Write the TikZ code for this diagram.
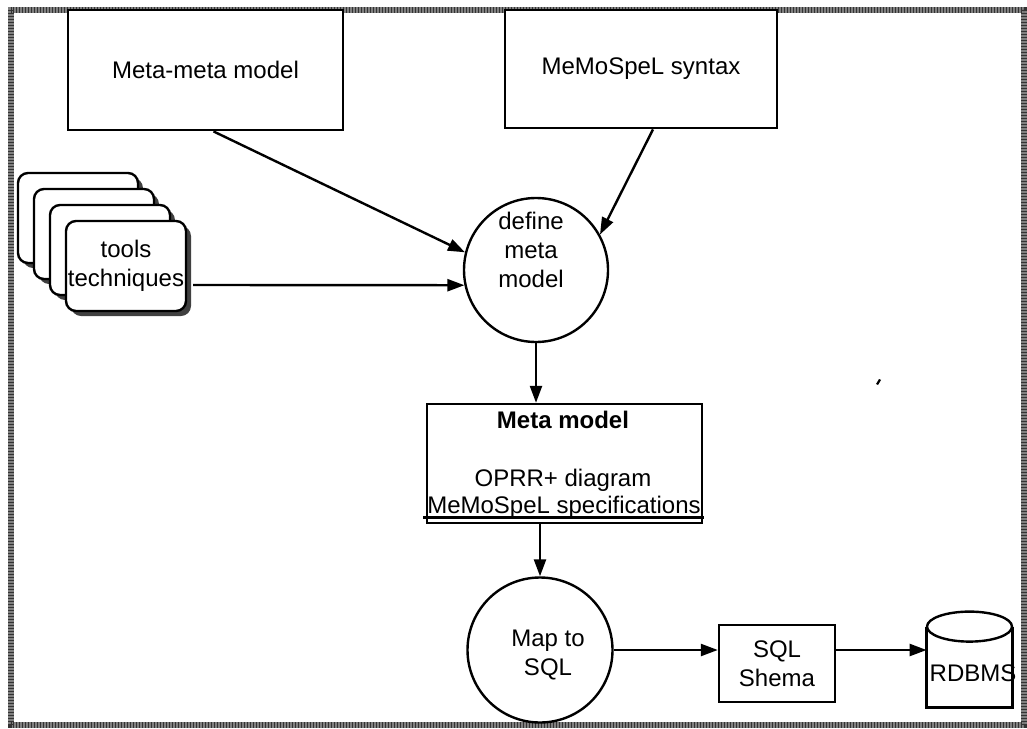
\documentclass[tikz,border=0pt]{standalone}
\usepackage{fontspec}
\setmainfont{Liberation Sans}
\usetikzlibrary{arrows.meta,calc,shadows}
\begin{document}
\begin{tikzpicture}[x=0.5pt,y=-0.5pt,
  every node/.style={font=\fontsize{12pt}{14.5pt}\selectfont, inner sep=0pt},
  box/.style={draw, line width=1.4pt, rectangle, fill=white},
  circ/.style={draw, line width=1.2pt, circle},
  arr/.style={line width=1.2pt, -{Triangle[length=8.5pt,width=6pt]}},
  card/.style={draw, line width=1.2pt, fill=white, rounded corners=5pt,
    minimum width=60pt, minimum height=45pt,
    drop shadow={shadow xshift=2.5pt, shadow yshift=-2.5pt, opacity=1, fill=black!75}},
  txt/.style={align=center}]
\useasboundingbox (0,0) rectangle (1027,728);
% frame
\draw[line width=2.8pt, black!50] (11,10) rectangle (1024,725);
\draw[line width=2.8pt, black!80, dash pattern=on 0.6pt off 0.9pt] (11,10) rectangle (1024,725);
% top boxes
\node[box, minimum width=137.5pt, minimum height=60pt] (mm) at (205.5,70) {Meta-meta model};
\node[box, minimum width=136pt, minimum height=59pt] (mss) at (641,69) {MeMoSpeL syntax};
% tool cards
\node[card] (c3) at (78,218) {};
\node[card] (c2) at (94,234) {};
\node[card] (c1) at (110,250) {};
\node[card, align=center] (tools) at (126,266) {tools\\techniques};
% define meta model
\node[circ, minimum size=72pt] (dmm) at (536,270) {};
\node[txt] (dmmtxt) at (531,250) {define\\meta\\model};
% meta model box
\node[box, line width=1.2pt, minimum width=137.5pt, minimum height=59.5pt] (mmod) at (564.5,463.5) {};
\node (mmt1) at (563,420) {\bfseries Meta model};
\node (mmt2) at (563,480) {OPRR+ diagram};
\node[anchor=base] (mmt3) at (564,513) {MeMoSpeL specifications};
\draw[line width=1.5pt] (423,517) -- (704,517);
% map to SQL
\node[circ, minimum size=72.5pt] (msql) at (540,650) {};
\node[txt] (msqltxt) at (548,655) {Map to\\SQL};
% SQL schema
\node[box, line width=1.2pt, minimum width=58pt, minimum height=38.5pt, align=center] (sql) at (777,663.5) {SQL\\Shema};
% RDBMS cylinder
\node[minimum width=42.5pt, minimum height=47.5pt] (db) at (969.5,659.5) {};
\draw[line width=1.2pt] (db.north west) ++(0,15) -- (db.south west) -- (db.south east) -- ++(0,-80);
\draw[line width=1.2pt] ($(db.north)+(0,15)$) ellipse [x radius=42.5, y radius=15];
\node (dbtxt) at (973,673) {RDBMS};
% connectors
\draw[arr] ($(mm.south)+(8,0)$) -- (dmm.166);
\draw[arr] ($(mss.south)+(12,0)$) -- (dmm.29);
\coordinate (ts) at ($(tools.east)+(6,19)$);
\draw[arr] (ts) -- (dmm.192);
\draw[arr] (dmm.south) -- (dmm.south |- mmod.north);
\draw[arr] (msql.north |- mmod.south) -- (msql.north);
\draw[arr] (msql.east) -- (msql.east -| sql.west);
\draw[arr] (sql.east |- msql.east) -- (db.west |- msql.east);
% speck
\fill (876,384) -- (879,379) -- (881,380) -- (878,385) -- cycle;
\end{tikzpicture}
\end{document}
